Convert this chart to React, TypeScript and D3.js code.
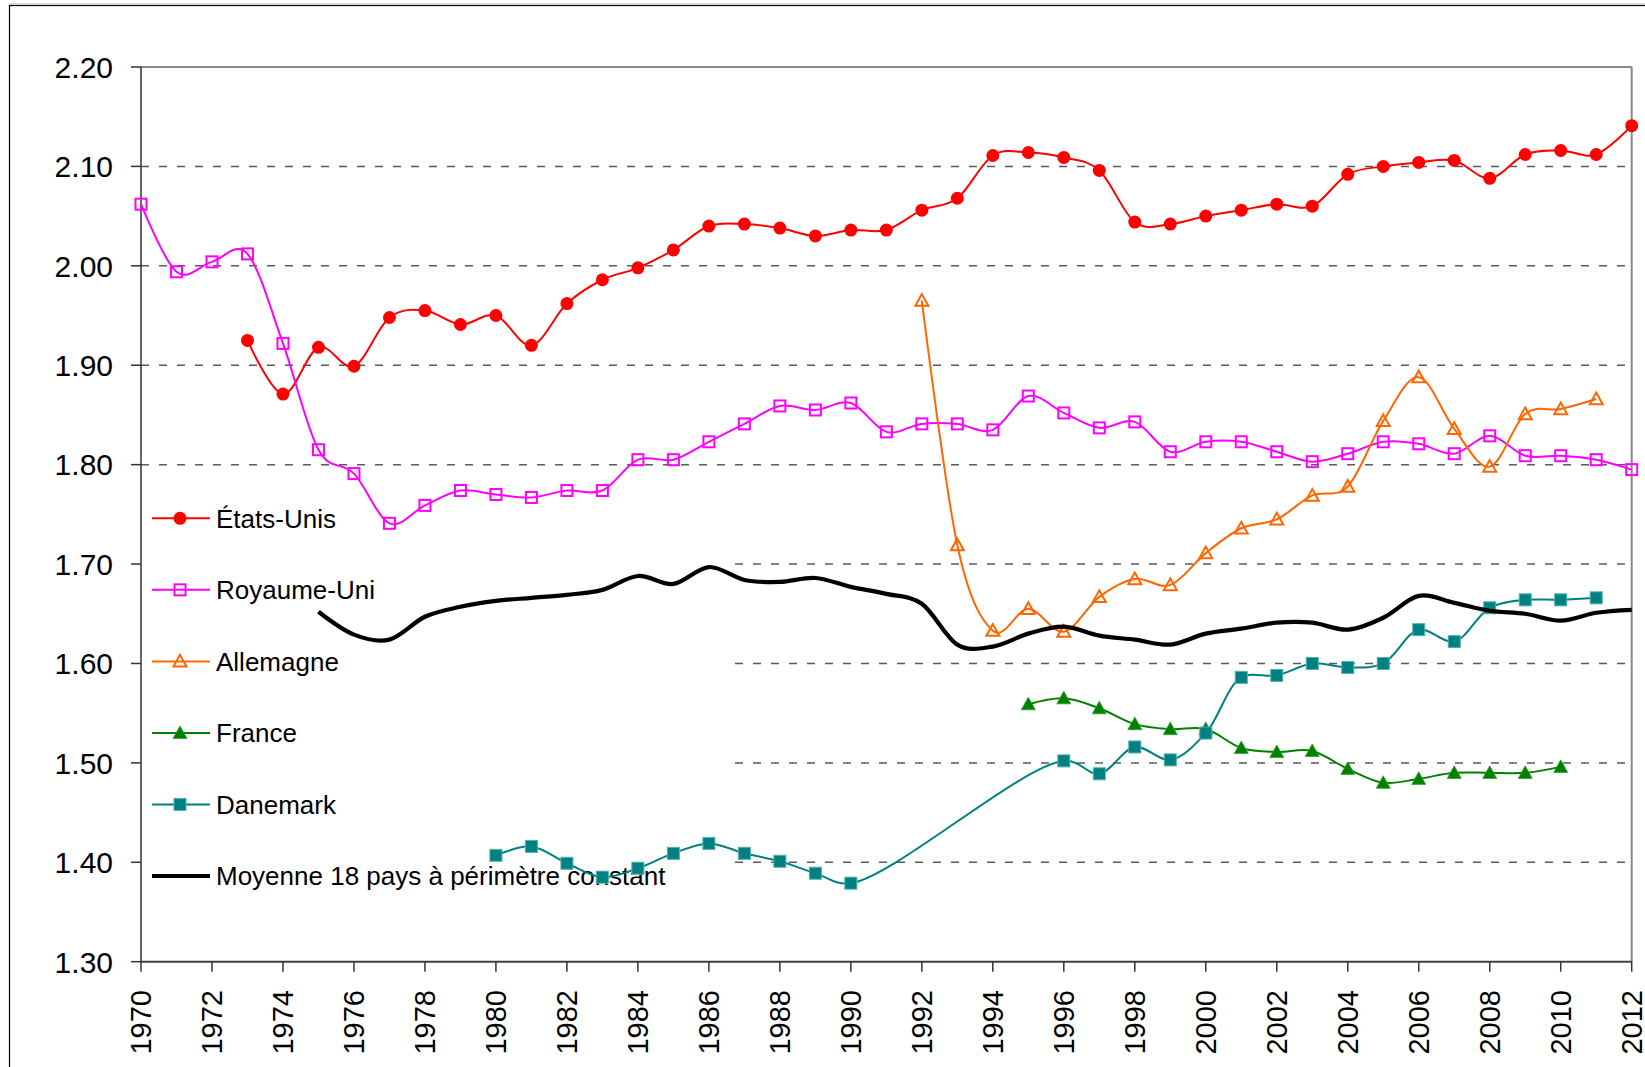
import React from "react";
import * as d3 from "d3";

const usStart = 1973;
const usValues = [1.925, 1.871, 1.918, 1.899, 1.948, 1.955, 1.941, 1.950, 1.920, 1.962, 1.986, 1.998, 2.016, 2.040, 2.042, 2.038, 2.030, 2.036, 2.036, 2.056, 2.068, 2.111, 2.114, 2.109, 2.096, 2.044, 2.042, 2.050, 2.056, 2.062, 2.060, 2.092, 2.100, 2.104, 2.106, 2.088, 2.112, 2.116, 2.112, 2.141];

const ukStart = 1970;
const ukValues = [2.062, 1.994, 2.004, 2.012, 1.922, 1.815, 1.791, 1.741, 1.759, 1.774, 1.770, 1.767, 1.774, 1.774, 1.805, 1.805, 1.823, 1.841, 1.859, 1.855, 1.862, 1.833, 1.841, 1.841, 1.835, 1.869, 1.852, 1.837, 1.843, 1.813, 1.823, 1.823, 1.813, 1.803, 1.811, 1.823, 1.821, 1.811, 1.829, 1.809, 1.809, 1.805, 1.795];

const deStart = 1992;
const deValues = [1.965, 1.719, 1.633, 1.655, 1.632, 1.667, 1.685, 1.679, 1.711, 1.736, 1.745, 1.769, 1.778, 1.844, 1.888, 1.836, 1.798, 1.851, 1.856, 1.866];

const frStart = 1995;
const frValues = [1.559, 1.565, 1.555, 1.539, 1.534, 1.534, 1.515, 1.511, 1.512, 1.494, 1.480, 1.484, 1.490, 1.490, 1.490, 1.496];

const dkStart = 1980;
const dkValues: (number | null)[] = [1.407, 1.416, 1.399, 1.385, 1.394, 1.409, 1.419, 1.409, 1.401, 1.389, 1.379, null, null, null, null, null, 1.502, 1.489, 1.516, 1.503, 1.530, 1.586, 1.588, 1.600, 1.596, 1.600, 1.634, 1.622, 1.656, 1.664, 1.664, 1.666];

const avgStart = 1975;
const avgValues = [1.652, 1.629, 1.624, 1.647, 1.657, 1.663, 1.666, 1.669, 1.674, 1.688, 1.680, 1.697, 1.684, 1.682, 1.686, 1.677, 1.670, 1.660, 1.619, 1.617, 1.630, 1.637, 1.628, 1.624, 1.619, 1.630, 1.635, 1.641, 1.641, 1.634, 1.646, 1.668, 1.661, 1.653, 1.650, 1.643, 1.651, 1.654];

const seriesNames = ["États-Unis", "Royaume-Uni", "Allemagne", "France", "Danemark", "Moyenne 18 pays à périmètre constant"];
const yTicks = [2.2, 2.1, 2.0, 1.9, 1.8, 1.7, 1.6, 1.5, 1.4, 1.3];
const fullGrid = [2.1, 2.0, 1.9, 1.8];
const partialGrid = [1.7, 1.6, 1.5, 1.4];
const xTickYears = d3.range(1970, 2013, 2);

type Pt = { year: number; value: number };

function toPoints(start: number, vals: (number | null)[]): Pt[] {
  const out: Pt[] = [];
  vals.forEach((v, i) => {
    if (v !== null && v !== undefined) out.push({ year: start + i, value: v });
  });
  return out;
}

const FONT = "'Liberation Sans', Arial, Helvetica, sans-serif";

export default function App() {
  const W = 1645;
  const H = 1067;
  const x = d3.scaleLinear().domain([1970, 2012]).range([141, 1631.7]);
  const y = d3.scaleLinear().domain([2.2, 1.3]).range([67, 961.7]);
  const legendY = d3.scaleLinear().domain([0, 5]).range([518.3, 876]);

  const line = d3
    .line<Pt>()
    .x((d) => x(d.year))
    .y((d) => y(d.value))
    .curve(d3.curveCardinal.tension(0));

  const lineCentripetal = d3
    .line<Pt>()
    .x((d) => x(d.year))
    .y((d) => y(d.value))
    .curve(d3.curveCatmullRom.alpha(0.5));

  const series = [
    { name: seriesNames[0], pts: toPoints(usStart, usValues), color: "#FF0000", width: 2, marker: "circle", gen: line },
    { name: seriesNames[1], pts: toPoints(ukStart, ukValues), color: "#FF00FF", width: 2, marker: "square-open", gen: line },
    { name: seriesNames[2], pts: toPoints(deStart, deValues), color: "#FF6600", width: 2, marker: "triangle-open", gen: line },
    { name: seriesNames[3], pts: toPoints(frStart, frValues), color: "#008000", width: 2, marker: "triangle", gen: line },
    { name: seriesNames[4], pts: toPoints(dkStart, dkValues), color: "#008080", width: 2, marker: "square", gen: lineCentripetal },
    { name: seriesNames[5], pts: toPoints(avgStart, avgValues), color: "#000000", width: 4.2, marker: "none", gen: line },
  ];

  const drawMarker = (m: string, cx: number, cy: number, color: string, key: string) => {
    if (m === "circle") return <circle key={key} cx={cx} cy={cy} r={6.5} fill={color} />;
    if (m === "square-open")
      return <rect key={key} x={cx - 5.5} y={cy - 5.5} width={11} height={11} fill="none" stroke={color} strokeWidth={2} />;
    if (m === "square")
      return <rect key={key} x={cx - 6} y={cy - 6} width={12} height={12} fill={color} stroke="#4fb0b0" strokeWidth={1} />;
    if (m === "triangle-open") {
      const s = 6.5;
      return (
        <path key={key} d={`M${cx},${cy - s} L${cx + s},${cy + s * 0.8} L${cx - s},${cy + s * 0.8} Z`} fill="none" stroke={color} strokeWidth={2} />
      );
    }
    if (m === "triangle") {
      const s = 7;
      return (
        <path key={key} d={`M${cx},${cy - s} L${cx + s},${cy + s * 0.8} L${cx - s},${cy + s * 0.8} Z`} fill={color} stroke="#30a030" strokeWidth={0.8} />
      );
    }
    return null;
  };

  return (
    <svg width={W} height={H} style={{ position: "absolute", left: 0, top: 0, background: "#fff" }} fontFamily={FONT}>
      <rect x={0} y={0} width={W} height={H} fill="#fff" />
      {/* outer frame */}
      <line x1={9} y1={3.8} x2={W} y2={3.8} stroke="#c8c8c8" strokeWidth={1} />
      <rect x={9.5} y={5.5} width={W + 50} height={H + 50} fill="none" stroke="#000" strokeWidth={1.2} />

      {/* gridlines */}
      {fullGrid.map((v) => (
        <line key={"g" + v} x1={x(1970)} x2={x(2012)} y1={y(v)} y2={y(v)} stroke="#5a5a5a" strokeWidth={1.5} strokeDasharray="8 10" />
      ))}
      {partialGrid.map((v) => (
        <line key={"pg" + v} x1={735} x2={x(2012)} y1={y(v)} y2={y(v)} stroke="#5a5a5a" strokeWidth={1.5} strokeDasharray="8 10" />
      ))}

      {/* plot border top/right */}
      <line x1={x(1970)} x2={x(2012)} y1={y(2.2)} y2={y(2.2)} stroke="#888" strokeWidth={2} />
      <line x1={x(2012)} x2={x(2012)} y1={y(2.2)} y2={y(1.3)} stroke="#888" strokeWidth={2} />

      {/* axes */}
      <line x1={x(1970)} x2={x(1970)} y1={y(2.2)} y2={y(1.3)} stroke="#333" strokeWidth={1.5} />
      <line x1={x(1970)} x2={x(2012)} y1={y(1.3)} y2={y(1.3)} stroke="#404040" strokeWidth={2} />
      {yTicks.map((v) => (
        <g key={"yt" + v}>
          <line x1={x(1970) - 10} x2={x(1970)} y1={y(v)} y2={y(v)} stroke="#333" strokeWidth={1.5} />
          <text x={113} y={y(v)} dy="0.36em" textAnchor="end" fontSize={30} fill="#000">
            {v.toFixed(2)}
          </text>
        </g>
      ))}
      {xTickYears.map((yr) => (
        <g key={"xt" + yr}>
          <line x1={x(yr)} x2={x(yr)} y1={y(1.3)} y2={y(1.3) + 10} stroke="#333" strokeWidth={1.5} />
          <text
            transform={`translate(${x(yr)},990) rotate(-90)`}
            dy="0.35em"
            textAnchor="end"
            fontSize={29}
            fill="#000"
          >
            {yr}
          </text>
        </g>
      ))}

      {/* legend */}
      {series.map((s, i) => (
        <g key={"lg" + i}>
          <line x1={152} x2={210} y1={legendY(i)} y2={legendY(i)} stroke={s.color} strokeWidth={s.width} />
          {drawMarker(s.marker, 180, legendY(i), s.color, "lm" + i)}
          <text x={216} y={legendY(i)} dy="0.36em" fontSize={26} fill="#000">
            {s.name}
          </text>
        </g>
      ))}

      {/* series */}
      {series.map((s, i) => (
        <g key={"s" + i}>
          <path d={s.gen(s.pts) || ""} fill="none" stroke={s.color} strokeWidth={s.width} strokeLinejoin="round" />
          {s.pts.map((p, j) => drawMarker(s.marker, x(p.year), y(p.value), s.color, `m${i}-${j}`))}
        </g>
      ))}
    </svg>
  );
}
